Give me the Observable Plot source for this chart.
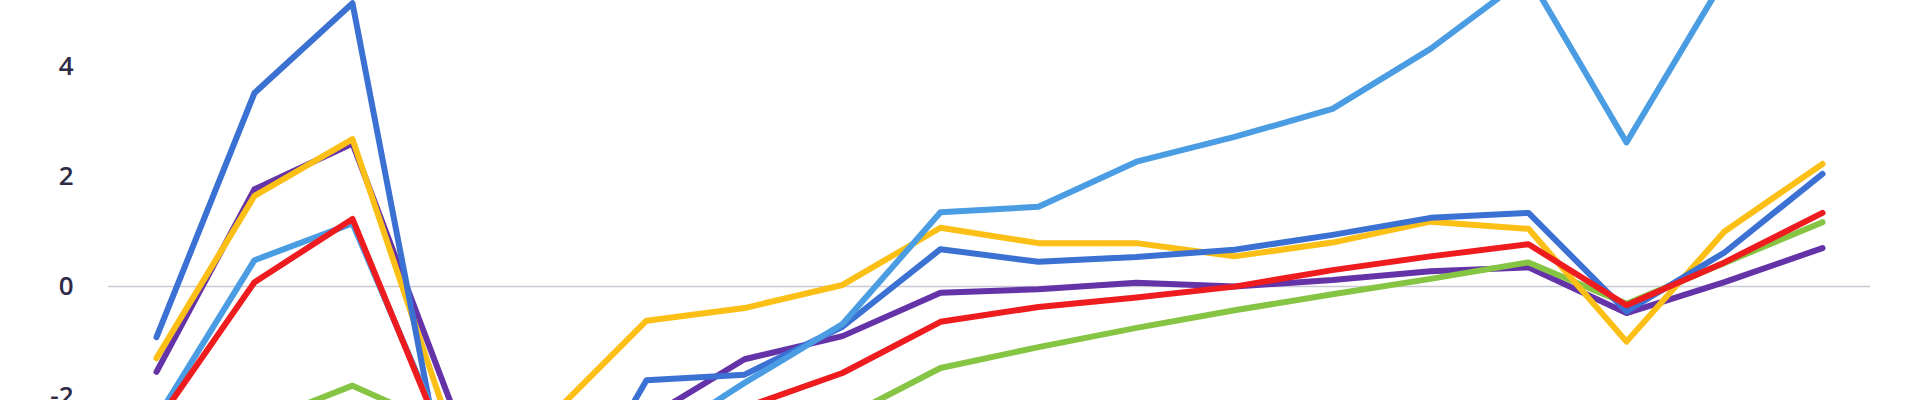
<!DOCTYPE html>
<html>
<head>
<meta charset="utf-8">
<script src="https://cdn.jsdelivr.net/npm/d3@7"></script>
<script src="https://cdn.jsdelivr.net/npm/@observablehq/plot@0.6"></script>
<style>
  html, body { margin: 0; padding: 0; background: #fff; overflow: hidden; }
  #chart svg { display: block; }
</style>
</head>
<body>
<div id="chart"></div>
<script>
// Categories (x positions; the axis itself is not shown in the reference)
const periods = [1, 2, 3, 4, 5, 6, 7, 8, 9, 10, 11, 12, 13, 14, 15, 16, 17, 18];

// Y tick labels
const yTicks = [-2, 0, 2, 4];

// Series values (off-frame points are estimates of the clipped segments)
const purple    = [-1.55, 1.77, 2.6, -2.1, -2.7, -2.4, -1.32, -0.9, -0.11, -0.05, 0.07, 0.0, 0.12, 0.28, 0.35, -0.48, 0.08, 0.7];
const green     = [-3.0, -2.5, -1.8, -2.6, -3.2, -3.0, -2.8, -2.4, -1.48, -1.1, -0.75, -0.43, -0.14, 0.14, 0.44, -0.31, 0.43, 1.17];
const yellow    = [-1.3, 1.65, 2.68, -2.6, -2.4, -0.62, -0.39, 0.03, 1.07, 0.79, 0.79, 0.55, 0.8, 1.18, 1.05, -1.0, 1.0, 2.23];
const blue      = [-0.92, 3.52, 5.15, -4.1, -4.8, -1.7, -1.6, -0.73, 0.68, 0.45, 0.54, 0.67, 0.94, 1.25, 1.34, -0.45, 0.62, 2.05];
const lightBlue = [-2.4, 0.48, 1.15, -3.0, -3.3, -2.9, -1.75, -0.68, 1.35, 1.45, 2.27, 2.72, 3.23, 4.32, 5.65, 2.62, 5.6, 6.2];
const red       = [-2.48, 0.08, 1.23, -3.1, -3.0, -2.6, -2.2, -1.57, -0.64, -0.37, -0.2, 0.0, 0.3, 0.55, 0.77, -0.34, 0.44, 1.34];

// Series names and colours (drawing order = list order)
const seriesNames  = ["purple", "green", "yellow", "blue", "lightBlue", "red"];
const seriesValues = [purple, green, yellow, blue, lightBlue, red];
const seriesColors = ["#6533a8", "#86c443", "#fbbf16", "#3a71d3", "#4b9de3", "#ee1c1f"];

const lineMarks = seriesNames.map((name, k) => {
  const rows = periods.map((p, i) => ({ period: p, value: seriesValues[k][i] }));
  return Plot.line(rows, {
    x: "period",
    y: "value",
    stroke: seriesColors[k],
    strokeWidth: 6,
    strokeLinejoin: "round",
    strokeLinecap: "round",
    clip: true
  });
});

const chart = Plot.plot({
  width: 1920,
  height: 400,
  marginLeft: 108,
  marginRight: 50,
  marginTop: 0,
  marginBottom: 0,
  x: { type: "point", domain: periods, padding: 0.46, axis: null },
  y: { domain: [-2.07, 5.2], axis: null },
  style: { fontFamily: "'Open Sans', sans-serif", background: "#fff" },
  marks: [
    Plot.ruleY([0], { stroke: "#c9cad3", strokeWidth: 1.5 }),
    Plot.axisY(yTicks, {
      tickSize: 0,
      tickPadding: 35,
      fontSize: 26,
      fontWeight: 600,
      fill: "#2d2b45",
      label: null,
      tickFormat: d => String(d)
    }),
    ...lineMarks
  ]
});

document.getElementById("chart").appendChild(chart);
</script>
</body>
</html>
